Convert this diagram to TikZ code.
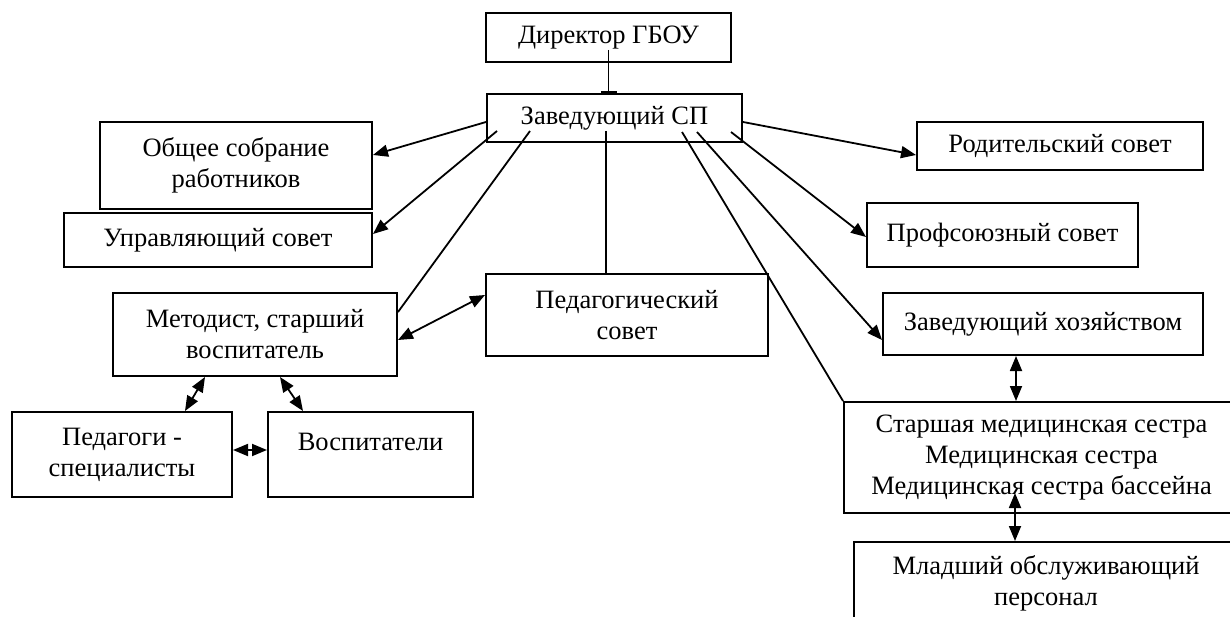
\documentclass[tikz,border=0pt]{standalone}
\usepackage{fontspec}
\setmainfont{Liberation Serif}
\usetikzlibrary{arrows.meta}
\begin{document}
\begin{tikzpicture}[x=1pt,y=-1pt,
  box/.style={draw, line width=2pt, inner sep=0pt, align=center,
    font=\fontsize{26.5}{31}\selectfont},
  conn/.style={line width=1.8pt},
  tip/.style={conn,-{Triangle[length=15pt,width=12pt]}},
  dtip/.style={conn,{Triangle[length=15pt,width=12pt]}-{Triangle[length=15pt,width=12pt]}},
  bartip/.style={conn,-{Bar[width=16pt,line width=2.4pt]}}
]
\useasboundingbox (0,0) rectangle (1230,617);
\clip (0,0) rectangle (1230,617);

% boxes
\node[box, minimum width=245pt, minimum height=49pt] (dir) at (608.5,37.5) {Директор ГБОУ};
\node[box, minimum width=255pt, minimum height=48pt] (sp) at (614.5,118) {Заведующий СП};
\node[box, minimum width=272pt, minimum height=87pt] (obs) at (236,165.5) {Общее собрание\\работников};
\node[box, minimum width=308pt, minimum height=54pt] (upr) at (218,240) {Управляющий совет};
\node[box, minimum width=284pt, minimum height=83pt] (met) at (255,334.5) {Методист, старший\\воспитатель};
\node[box, minimum width=282pt, minimum height=82pt] (ped) at (627,315) {Педагогический\\совет};
\node[box, minimum width=220pt, minimum height=85pt] (pedg) at (122,454.5) {Педагоги -\\специалисты};
\node[box, minimum width=205pt, minimum height=85pt, text height=17pt, text depth=26pt] (vosp) at (370.5,454.5) {Воспитатели};
\node[box, minimum width=286pt, minimum height=48pt] (rod) at (1060,146) {Родительский совет};
\node[box, minimum width=271pt, minimum height=64pt] (prof) at (1002.5,235) {Профсоюзный совет};
\node[box, minimum width=320pt, minimum height=62pt] (zav) at (1043,324) {Заведующий хозяйством};
\node[box, minimum width=395pt, minimum height=111pt] (star) at (1041.5,457.5) {Старшая медицинская сестра\\Медицинская сестра\\Медицинская сестра бассейна};
\node[box, minimum width=384pt, minimum height=82pt] (mlad) at (1046,583) {Младший обслуживающий\\персонал};

% start points inside boxes
\coordinate (spB) at (497,131);
\coordinate (spC) at (530,131);
\coordinate (spV) at (606,131);
\coordinate (spD) at (682,132);
\coordinate (spE) at (697,132);
\coordinate (spF) at (731,132);
\coordinate (stB) at (1015,493);

% connectors
\draw[bartip] (dir.south |- 0,50) -- (sp.north -| dir.south);
\draw[tip] (sp.west |- 0,122) -- (obs.east |- 0,155);
\draw[tip] (spB) -- (upr.east |- 0,234);
\draw[conn] (spC) -- (met.east |- 0,312);
\draw[conn] (spV) -- (ped.north -| spV);
\draw[dtip] (met.east |- 0,340) -- (ped.west |- 0,295);
\draw[dtip] (met.south -| 205,0) -- (pedg.north -| 185,0);
\draw[dtip] (met.south -| 280,0) -- (vosp.north -| 303,0);
\draw[dtip] (pedg.east |- 0,450) -- (vosp.west |- 0,450);
\draw[tip] (sp.east |- 0,122) -- (rod.west |- 0,155);
\draw[tip] (spF) -- (prof.west |- 0,237);
\draw[tip] (spE) -- (zav.west |- 0,340);
\draw[conn] (spD) -- (star.north west);
\draw[dtip] (zav.south -| 1016,0) -- (star.north -| 1016,0);
\draw[dtip] (stB) -- (mlad.north -| stB);
\end{tikzpicture}
\end{document}
